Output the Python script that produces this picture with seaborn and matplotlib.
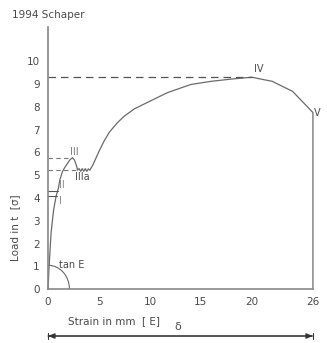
import matplotlib
matplotlib.use("Agg")
import matplotlib.pyplot as plt
import seaborn as sns
import numpy as np
import pandas as pd
from matplotlib.patches import Arc, FancyArrowPatch

# Data
strain = [0, 0.1, 0.3, 0.55, 0.8, 1.0, 1.15, 1.4, 1.65, 1.9, 2.15, 2.4, 2.6, 2.8, 2.9,
          3.05, 3.2, 3.35, 3.5, 3.65, 3.8, 3.95, 4.1,
          4.4, 4.7, 5.0, 5.5, 6.0, 6.8, 7.5, 8.5, 10.1, 11.7, 14, 16, 18, 20,
          22, 24, 26, 26]
load = [0, 1.0, 2.5, 3.5, 4.1, 4.4, 4.78, 5.15, 5.35, 5.51, 5.68, 5.77, 5.66, 5.4, 5.22,
        5.29, 5.17, 5.29, 5.17, 5.29, 5.17, 5.28, 5.22,
        5.45, 5.75, 6.05, 6.5, 6.88, 7.3, 7.6, 7.92, 8.27, 8.62, 8.98, 9.12, 9.22, 9.3,
        9.12, 8.68, 7.75, 0]
xticks = [0, 5, 10, 15, 20, 26]
yticks = [0, 1, 2, 3, 4, 5, 6, 7, 8, 9, 10]
peak_IV = 9.3
peak_III = 5.77
level_IIIa = 5.22
level_II = 4.32
level_I = 4.08

sns.set_theme(style="white")
plt.rcParams['font.family'] = ['DejaVu Sans']

txt = "#4a4a4a"
fig = plt.figure(figsize=(3.27, 3.43), dpi=100)
ax = fig.add_axes([0.147, 0.157, 0.81, 0.764])

df = pd.DataFrame({"strain": strain, "load": load})
sns.lineplot(data=df, x="strain", y="load", sort=False, estimator=None,
             color="#6a6a6a", lw=0.9, ax=ax)
for l in ax.lines:
    l.set_clip_on(False)

# reference lines
ax.plot([0, 20], [peak_IV, peak_IV], color="#555555", lw=0.9, ls=(0, (6, 4)))
ax.plot([0, 2.4], [peak_III, peak_III], color="#777777", lw=0.8, ls=(0, (4, 3)))
ax.plot([0, 2.9], [level_IIIa, level_IIIa], color="#777777", lw=0.8, ls=(0, (4, 3)))
ax.plot([0, 0.95], [level_II, level_II], color="#555555", lw=0.8)
ax.plot([0, 0.85], [level_I, level_I], color="#555555", lw=0.8)

# angle arc
ax.add_patch(Arc((0, 0), 4.2, 2.1, theta1=0, theta2=90, color="#666666", lw=0.8))

ax.set_xlim(0, 26)
ax.set_ylim(0, 11.5)
ax.set_xticks(xticks)
ax.set_yticks(yticks)
ax.tick_params(axis="both", length=0, labelsize=7.5, colors=txt)
ax.tick_params(axis="y", pad=6)
ax.tick_params(axis="x", pad=6)
for s in ["top", "right"]:
    ax.spines[s].set_visible(False)
for s in ["left", "bottom"]:
    ax.spines[s].set_color("#888888")
    ax.spines[s].set_linewidth(1.2)
ax.set_xlabel("")
ax.set_ylabel("")

fs = 7
ax.text(20.2, 9.45, "IV", color=txt, fontsize=fs, ha="left", va="bottom")
ax.text(26.1, 7.75, "V", color=txt, fontsize=fs, ha="left", va="center")
ax.text(2.2, 5.8, "III", color="#777777", fontsize=fs, ha="left", va="bottom")
ax.text(2.65, 4.9, "IIIa", color=txt, fontsize=fs, ha="left", va="center")
ax.text(1.1, 4.55, "II", color="#888888", fontsize=fs, ha="left", va="center")
ax.text(1.1, 3.85, "I", color="#888888", fontsize=fs, ha="left", va="center")
ax.text(1.1, 1.05, "tan E", color=txt, fontsize=fs, ha="left", va="center")

fig.text(12 / 327, 1 - 15 / 343, "1994 Schaper", color=txt, fontsize=7.5, ha="left", va="center")
fig.text(68 / 327, 1 - 321 / 343, "Strain in mm  [ E]", color=txt, fontsize=7.5, ha="left", va="center")
fig.text(15 / 327, 1 - 228 / 343, "Load in t  [σ]", color=txt, fontsize=7.5, ha="center", va="center", rotation=90)
fig.text(178 / 327, 1 - 327 / 343, "δ", color=txt, fontsize=8, ha="center", va="center")
p0 = (48 / 327, 1 - 336 / 343)
p1 = (313 / 327, 1 - 336 / 343)
fig.add_artist(FancyArrowPatch(p0, p1, transform=fig.transFigure,
               arrowstyle="<|-|>,head_length=4,head_width=1.6", color="#333333", lw=0.8,
               shrinkA=0, shrinkB=0))
fig.add_artist(FancyArrowPatch(p0, p1, transform=fig.transFigure,
               arrowstyle="|-|,widthA=2.5,widthB=2.5", color="#333333", lw=0.8,
               shrinkA=0, shrinkB=0))

fig.savefig("out.png", dpi=100)
